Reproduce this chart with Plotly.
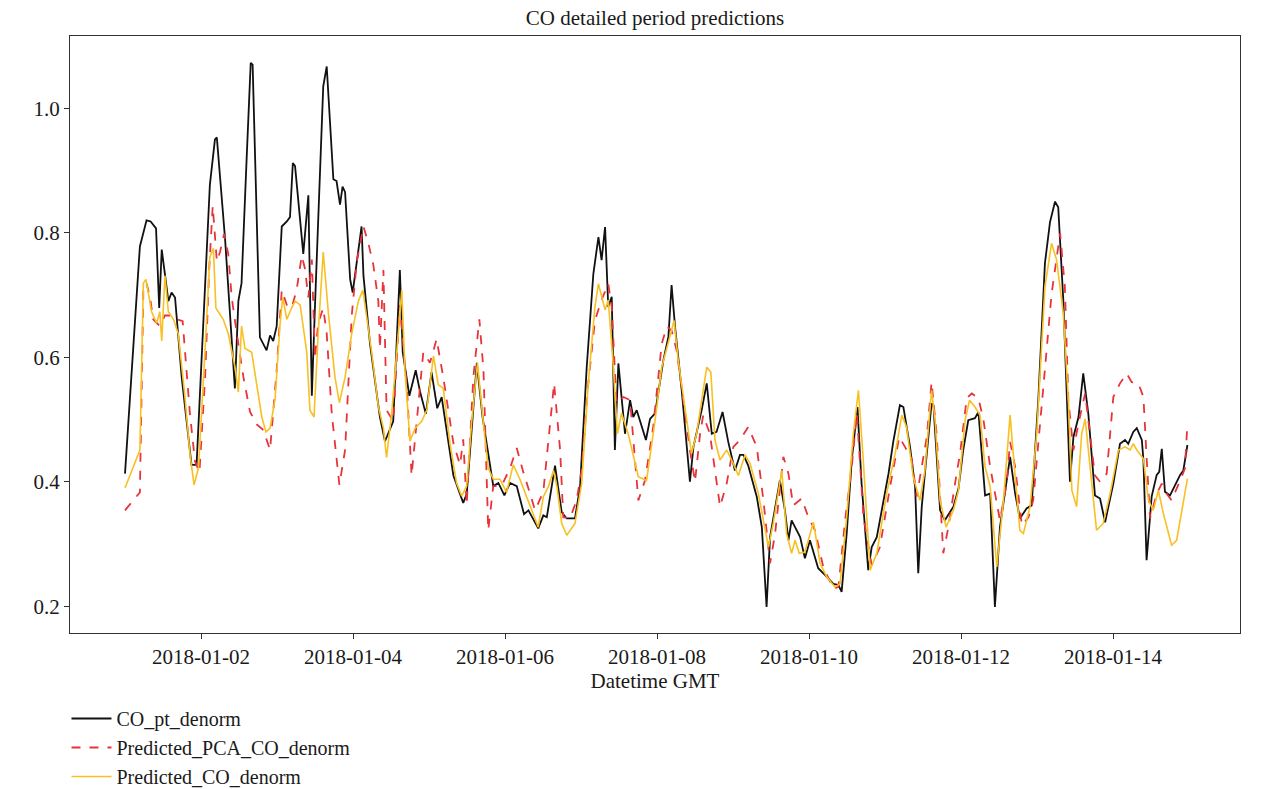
import pandas as pd
import plotly.graph_objects as go

# hours since 2018-01-01 00:00 and values
co_hours = [0, 4.7, 6.8, 8.1, 9.8, 10.8, 11.6, 13.7, 14.7, 15.8, 17.9, 19.5, 21, 22.6, 26.8, 28.4, 29, 31.6,
            34.7, 35.8, 36.8, 38.4, 39.7, 40.3, 41.6, 42.6, 44.7, 45.8, 46.8, 47.9, 49.5, 51.1, 52.1, 53, 53.7,
            56.3, 57.9, 59, 60, 62.6, 63.7, 65.8, 66.8, 67.9, 68.7, 69.5, 71.1, 71.9, 74.7, 75.3, 77.4, 80.5,
            82.1, 84.7, 86.8, 87.7, 89.8, 91.8, 93.2, 95, 96.8, 98.6, 100, 103.7, 106.8, 107.9, 111.1, 112.9,
            116.3, 117.9, 119.8, 121.6, 123.7, 126, 127.4, 130.5, 132.1, 133.2, 135.8, 137.9, 139.5, 142.1,
            143.7, 145.8, 147.9, 149.5, 150.5, 151.6, 152.6, 153.7, 154.7, 155.8, 157.9, 159.5, 160.5, 161.6,
            164.5, 165.8, 167.4, 170, 171.6, 172.6, 173.7, 175.8, 178.4, 179.5, 182.1, 183.7, 185.3, 186.8,
            188.7, 190.5, 192.6, 194.2, 195.3, 196.8, 199.5, 201.1, 202.6, 203.7, 206.8, 208.4, 209.5, 210.5,
            213.2, 214.7, 216.3, 218.9, 221.1, 223.7, 225.3, 226.3, 227.9, 229.5, 231.3, 232.6, 234.7, 235.8,
            237.4, 241.1, 242.6, 244.7, 245.8, 247.9, 249.5, 250.5, 251.6, 253.2, 254.7, 255.3, 257.4, 258.9,
            261.6, 263.2, 264.7, 266.3, 268.4, 269.5, 270.5, 271.6, 273.2, 274.7, 276.3, 279.5, 281.1, 282.6,
            284.7, 286.3, 288.4, 290.5, 292.1, 293.7, 294.7, 296.3, 298.4, 299.5, 301.1, 302.6, 304.2, 306.3,
            307.9, 309.5, 312.1, 314.2, 315.8, 316.8, 318.4, 319.5, 321.1, 321.6, 322.6, 324.2, 325.8, 326.6,
            327.4, 328.4, 330, 333.2, 334.2, 335.5]
co_values = [0.413, 0.778, 0.820, 0.818, 0.807, 0.679, 0.773, 0.69, 0.704, 0.696, 0.568, 0.49, 0.427, 0.427,
             0.877, 0.950, 0.953, 0.79, 0.55, 0.69, 0.719, 0.918, 1.073, 1.07, 0.80, 0.632, 0.611, 0.635, 0.626,
             0.65, 0.81, 0.818, 0.825, 0.912, 0.907, 0.766, 0.86, 0.538, 0.684, 1.035, 1.067, 0.886, 0.883,
             0.845, 0.874, 0.865, 0.725, 0.704, 0.81, 0.731, 0.62, 0.504, 0.465, 0.497, 0.74, 0.608, 0.538,
             0.579, 0.544, 0.509, 0.576, 0.518, 0.536, 0.41, 0.366, 0.38, 0.591, 0.504, 0.393, 0.398, 0.378,
             0.398, 0.393, 0.348, 0.354, 0.325, 0.346, 0.343, 0.426, 0.351, 0.341, 0.341, 0.392, 0.584, 0.734,
             0.793, 0.756, 0.809, 0.681, 0.697, 0.451, 0.59, 0.477, 0.531, 0.504, 0.515, 0.467, 0.501, 0.51,
             0.595, 0.633, 0.716, 0.649, 0.547, 0.40, 0.456, 0.515, 0.558, 0.477, 0.48, 0.512, 0.464, 0.418,
             0.443, 0.443, 0.426, 0.376, 0.327, 0.199, 0.311, 0.402, 0.354, 0.306, 0.338, 0.311, 0.277, 0.306,
             0.261, 0.25, 0.236, 0.234, 0.223, 0.317, 0.435, 0.52, 0.397, 0.258, 0.295, 0.311, 0.413, 0.464,
             0.523, 0.52, 0.456, 0.392, 0.253, 0.36, 0.451, 0.526, 0.523, 0.354, 0.338, 0.36, 0.389, 0.451,
             0.499, 0.502, 0.512, 0.451, 0.378, 0.381, 0.199, 0.327, 0.44, 0.381, 0.341, 0.357, 0.362, 0.531,
             0.751, 0.817, 0.85, 0.841, 0.692, 0.40, 0.472, 0.504, 0.574, 0.509, 0.378, 0.373, 0.335, 0.397,
             0.461, 0.467, 0.461, 0.48, 0.486, 0.467, 0.435, 0.274, 0.376, 0.411, 0.416, 0.453, 0.384, 0.378,
             0.411, 0.418, 0.459]

pca_hours = [0, 4.7, 5.8, 6.8, 7.9, 8.9, 11, 12.6, 14.2, 16.3, 18.2, 20.5, 22.1, 23.5, 25.3, 26.6, 27.7, 29,
             30, 31.3, 32.6, 33.7, 35.3, 37.4, 39.5, 41.6, 43.7, 45.8, 47.9, 49.5, 51.1, 52.6, 54.2, 55.8, 56.8,
             57.9, 59, 60, 61, 62.6, 63.7, 65.3, 67.7, 69.5, 71.6, 73.2, 75.3, 76.8, 78.4, 80, 80.5, 81.6, 82.6,
             84.7, 86.8, 89.1, 90.5, 92.1, 94.2, 96.3, 98.4, 100.5, 103.7, 105.8, 106.8, 107.9, 110, 111.9,
             113.2, 114.7, 116.3, 118.9, 121.6, 123.7, 125.8, 127.9, 129.5, 132.1, 135.5, 137.4, 138.4, 140.5,
             142.6, 144.2, 146.3, 148.4, 150.5, 152.6, 153.7, 155.2, 157.4, 159.5, 162.1, 164.2, 166.8, 169.5,
             171.1, 172.6, 174.2, 176.3, 178.4, 180, 181.6, 182.6, 184.7, 187.9, 190, 192.1, 194.2, 196.8,
             199.5, 201.6, 203.7, 205.3, 207.9, 209.5, 211, 213.7, 215.8, 217.9, 220.5, 223.7, 225.3, 227.4,
             229.5, 231.1, 233.2, 235.8, 238.4, 241.6, 244.5, 246.3, 248.4, 250, 251.6, 253.2, 254.7, 256.3,
             258.4, 260, 262.6, 263.7, 265.8, 267.4, 269.5, 271.1, 273.2, 276.3, 278.4, 279.5, 281.1, 283.2,
             285.3, 286.8, 290, 292.6, 295.3, 296.8, 297.9, 299.5, 301.1, 303.2, 304.7, 306.3, 307.9, 310,
             312.1, 314.2, 316.3, 317.9, 320, 321.6, 322.6, 323.7, 325.8, 327.4, 328.9, 330.5, 333.2, 334.7,
             335.5]
pca_values = [0.354, 0.383, 0.713, 0.719, 0.696, 0.661, 0.65, 0.667, 0.667, 0.661, 0.658, 0.509, 0.433, 0.415,
              0.568, 0.743, 0.843, 0.754, 0.769, 0.798, 0.766, 0.696, 0.638, 0.568, 0.512, 0.492, 0.483, 0.451,
              0.579, 0.708, 0.684, 0.679, 0.708, 0.763, 0.743, 0.696, 0.757, 0.597, 0.655, 0.679, 0.638, 0.509,
              0.395, 0.451, 0.667, 0.754, 0.81, 0.784, 0.749, 0.69, 0.614, 0.74, 0.515, 0.497, 0.684, 0.544,
              0.41, 0.497, 0.608, 0.591, 0.629, 0.568, 0.462, 0.427, 0.468, 0.363, 0.568, 0.661, 0.579, 0.322,
              0.393, 0.393, 0.422, 0.454, 0.415, 0.381, 0.354, 0.384, 0.558, 0.451, 0.343, 0.341, 0.37, 0.418,
              0.558, 0.659, 0.692, 0.718, 0.681, 0.526, 0.536, 0.531, 0.37, 0.402, 0.488, 0.622, 0.649, 0.643,
              0.611, 0.531, 0.451, 0.40, 0.477, 0.507, 0.477, 0.36, 0.397, 0.456, 0.467, 0.488, 0.456, 0.37,
              0.269, 0.317, 0.44, 0.413, 0.362, 0.373, 0.343, 0.322, 0.263, 0.228, 0.231, 0.338, 0.424, 0.51,
              0.343, 0.266, 0.295, 0.392, 0.472, 0.456, 0.437, 0.376, 0.424, 0.472, 0.56, 0.477, 0.285, 0.327,
              0.413, 0.445, 0.534, 0.542, 0.534, 0.499, 0.424, 0.338, 0.397, 0.464, 0.424, 0.33, 0.343, 0.37,
              0.552, 0.702, 0.799, 0.713, 0.531, 0.451, 0.494, 0.542, 0.477, 0.41, 0.40, 0.413, 0.536, 0.558,
              0.574, 0.56, 0.558, 0.536, 0.44, 0.341, 0.381, 0.397, 0.381, 0.37, 0.402, 0.421, 0.494]

pred_hours = [0, 4.7, 5.8, 6.6, 8.4, 10, 11, 11.6, 12.6, 13.7, 15.3, 16.8, 18.9, 20.5, 21.8, 23.2, 25.3, 26.8,
              27.9, 28.7, 31, 32.6, 34.7, 35.8, 36.8, 37.9, 40, 41.6, 43.2, 44.5, 45.8, 47.4, 48.9, 49.8, 51.1,
              52.6, 53.7, 55.3, 57.4, 58.4, 59.7, 61, 62.6, 64.2, 66.3, 67.7, 69.5, 71.6, 73.7, 75.1, 76.3, 77.9,
              80, 81.6, 82.6, 84.2, 86.3, 87.4, 88.4, 90, 91.6, 93.7, 95.3, 97.4, 98.9, 100.5, 102.6, 104.7,
              106.3, 107.9, 109.5, 111.3, 113.2, 114.7, 116.3, 118.4, 120.5, 122.6, 124.7, 127.4, 130.5, 132.1,
              133.7, 135.3, 136.4, 137.9, 139.5, 142.1, 144.2, 146.3, 148.4, 149.5, 150.5, 151.6, 152.6, 154,
              155.5, 156.8, 158.9, 162.1, 164.7, 167.4, 169.5, 172.1, 173.4, 174.7, 176.8, 178.9, 180.5, 182.6,
              183.7, 185, 186.3, 187.9, 190, 192.1, 193.7, 195.8, 197.4, 200, 201.6, 203.2, 204.7, 207.4, 208.9,
              210.5, 211.6, 212.9, 214.7, 217.4, 219.5, 221.6, 224.2, 225.8, 227.9, 230, 231.6, 233, 235.3,
              237.4, 240.5, 243.2, 245.3, 246.8, 248.9, 251, 252.6, 254.7, 255.8, 257.4, 259.3, 261.6, 263.2,
              265.3, 266.7, 268.4, 270, 271.6, 273.2, 275.3, 277.4, 279.5, 281.1, 282.6, 283.7, 285.8, 287.9,
              290.5, 292.6, 294.2, 296.3, 297.9, 299, 300.5, 302.1, 303.2, 305.3, 306.8, 308.9, 311.1, 313.7,
              315.8, 317.4, 318.4, 319.5, 321.6, 323.2, 324.7, 326.3, 327.9, 330.5, 332.1, 335.5]
pred_values = [0.39, 0.451, 0.719, 0.725, 0.673, 0.655, 0.673, 0.626, 0.731, 0.673, 0.661, 0.638, 0.538, 0.445,
               0.395, 0.422, 0.614, 0.761, 0.775, 0.679, 0.661, 0.638, 0.585, 0.544, 0.65, 0.614, 0.608, 0.556,
               0.504, 0.48, 0.486, 0.533, 0.65, 0.696, 0.661, 0.679, 0.69, 0.684, 0.608, 0.515, 0.504, 0.638,
               0.769, 0.672, 0.568, 0.527, 0.568, 0.638, 0.69, 0.708, 0.667, 0.608, 0.521, 0.486, 0.439, 0.509,
               0.638, 0.708, 0.579, 0.465, 0.486, 0.497, 0.515, 0.602, 0.556, 0.55, 0.462, 0.398, 0.377, 0.393,
               0.497, 0.591, 0.492, 0.422, 0.404, 0.404, 0.383, 0.427, 0.404, 0.369, 0.327, 0.376, 0.392, 0.418,
               0.392, 0.333, 0.314, 0.333, 0.397, 0.558, 0.681, 0.718, 0.697, 0.676, 0.692, 0.60, 0.477, 0.51,
               0.477, 0.408, 0.402, 0.499, 0.584, 0.633, 0.659, 0.595, 0.52, 0.445, 0.477, 0.547, 0.584, 0.576,
               0.467, 0.435, 0.451, 0.429, 0.41, 0.443, 0.429, 0.381, 0.338, 0.295, 0.333, 0.418, 0.317, 0.285,
               0.306, 0.285, 0.287, 0.335, 0.269, 0.247, 0.231, 0.236, 0.343, 0.477, 0.547, 0.445, 0.258, 0.285,
               0.381, 0.445, 0.507, 0.488, 0.408, 0.37, 0.418, 0.547, 0.499, 0.37, 0.327, 0.354, 0.386, 0.499,
               0.531, 0.52, 0.507, 0.424, 0.392, 0.263, 0.37, 0.507, 0.408, 0.322, 0.317, 0.36, 0.477, 0.713,
               0.783, 0.756, 0.67, 0.531, 0.386, 0.36, 0.477, 0.501, 0.397, 0.322, 0.333, 0.381, 0.451, 0.456,
               0.451, 0.461, 0.451, 0.437, 0.37, 0.354, 0.386, 0.349, 0.298, 0.306, 0.405]

x_tick_start = "2018-01-02"
y_tick_values = [0.2, 0.4, 0.6, 0.8, 1.0]

base = pd.Timestamp("2018-01-01")


def to_time(hours):
    return [base + pd.to_timedelta(h, unit="h") for h in hours]


FONT = "Liberation Serif"

fig = go.Figure()
fig.add_trace(go.Scatter(x=to_time(co_hours), y=co_values, mode="lines", name="CO_pt_denorm",
                         line=dict(color="#111111", width=1.8)))
fig.add_trace(go.Scatter(x=to_time(pca_hours), y=pca_values, mode="lines", name="Predicted_PCA_CO_denorm",
                         line=dict(color="#e8333a", width=1.8, dash="dash")))
fig.add_trace(go.Scatter(x=to_time(pred_hours), y=pred_values, mode="lines", name="Predicted_CO_denorm",
                         line=dict(color="#f8c023", width=1.6)))

fig.update_layout(
    width=1261, height=789,
    margin=dict(l=70, r=21, t=36, b=156, autoexpand=False),
    paper_bgcolor="white", plot_bgcolor="white",
    font=dict(family=FONT, size=21, color="#1a1a1a"),
    title=dict(text="CO detailed period predictions", x=0.5, xref="paper", y=1 - 18 / 789,
               yref="container", xanchor="center", yanchor="middle",
               font=dict(family=FONT, size=21, color="#1a1a1a")),
    showlegend=True,
    legend=dict(x=-0.003, xanchor="left", xref="paper", y=1 - 699 / 789, yref="container", yanchor="top",
                orientation="v", itemwidth=40,
                font=dict(family=FONT, size=20), bgcolor="rgba(0,0,0,0)", tracegroupgap=0),
)
fig.update_xaxes(
    range=[base - pd.to_timedelta(17.37, unit="h"), base + pd.to_timedelta(352.1, unit="h")],
    tick0=x_tick_start, dtick=2 * 86400000, tickformat="%Y-%m-%d",
    ticks="outside", ticklen=5, tickcolor="#333", showgrid=False, zeroline=False,
    showline=True, linecolor="#333", linewidth=1, mirror=True,
    title=dict(text="Datetime GMT", standoff=4, font=dict(family=FONT, size=21)),
)
fig.update_yaxes(
    range=[0.157, 1.116], tickvals=y_tick_values, tickformat=".1f",
    ticks="outside", ticklen=5, tickcolor="#333", showgrid=False, zeroline=False,
    showline=True, linecolor="#333", linewidth=1, mirror=True,
)

fig.write_html("out.html")
